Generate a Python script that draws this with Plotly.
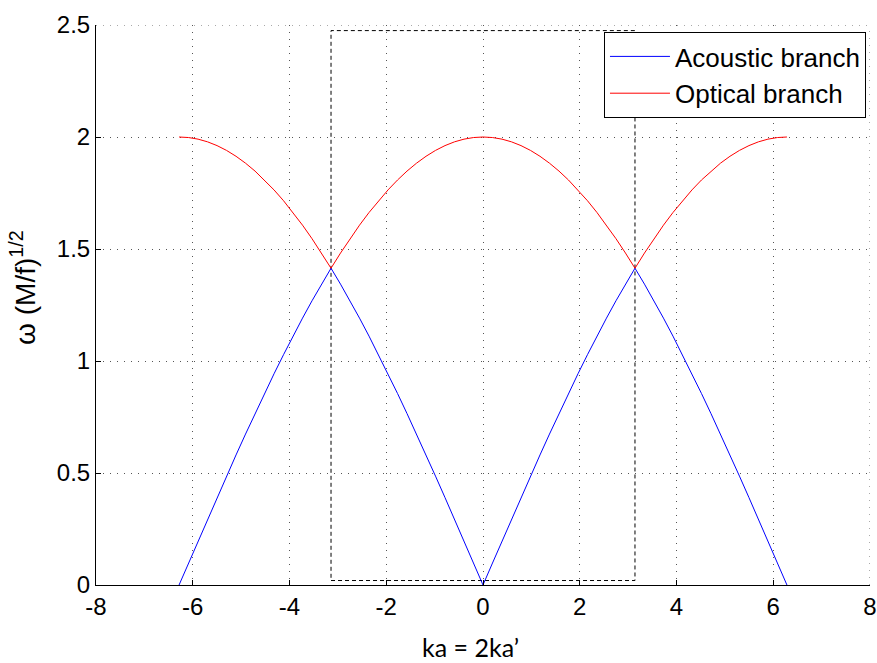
import plotly.graph_objects as go

# ka values (-2π .. 2π)
ka = [-6.2832, -6.0868, -5.8905, -5.6941, -5.4978, -5.3014, -5.1051, -4.9087,
      -4.7124, -4.5160, -4.3197, -4.1233, -3.9270, -3.7306, -3.5343, -3.3379,
      -3.1416, -2.9452, -2.7489, -2.5525, -2.3562, -2.1598, -1.9635, -1.7671,
      -1.5708, -1.3744, -1.1781, -0.9817, -0.7854, -0.5890, -0.3927, -0.1963,
      0.0,
      0.1963, 0.3927, 0.5890, 0.7854, 0.9817, 1.1781, 1.3744, 1.5708,
      1.7671, 1.9635, 2.1598, 2.3562, 2.5525, 2.7489, 2.9452, 3.1416,
      3.3379, 3.5343, 3.7306, 3.9270, 4.1233, 4.3197, 4.5160, 4.7124,
      4.9087, 5.1051, 5.3014, 5.4978, 5.6941, 5.8905, 6.0868, 6.2832]

acoustic = [0.0, 0.0981, 0.1960, 0.2935, 0.3902, 0.4860, 0.5806, 0.6738,
            0.7654, 0.8551, 0.9428, 1.0282, 1.1111, 1.1914, 1.2688, 1.3431,
            1.4142, 1.3431, 1.2688, 1.1914, 1.1111, 1.0282, 0.9428, 0.8551,
            0.7654, 0.6738, 0.5806, 0.4860, 0.3902, 0.2935, 0.1960, 0.0981,
            0.0,
            0.0981, 0.1960, 0.2935, 0.3902, 0.4860, 0.5806, 0.6738, 0.7654,
            0.8551, 0.9428, 1.0282, 1.1111, 1.1914, 1.2688, 1.3431, 1.4142,
            1.3431, 1.2688, 1.1914, 1.1111, 1.0282, 0.9428, 0.8551, 0.7654,
            0.6738, 0.5806, 0.4860, 0.3902, 0.2935, 0.1960, 0.0981, 0.0]

optical = [2.0, 1.9976, 1.9904, 1.9784, 1.9616, 1.9401, 1.9139, 1.8831,
           1.8478, 1.8080, 1.7638, 1.7155, 1.6629, 1.6064, 1.5460, 1.4819,
           1.4142, 1.4819, 1.5460, 1.6064, 1.6629, 1.7155, 1.7638, 1.8080,
           1.8478, 1.8831, 1.9139, 1.9401, 1.9616, 1.9784, 1.9904, 1.9976,
           2.0,
           1.9976, 1.9904, 1.9784, 1.9616, 1.9401, 1.9139, 1.8831, 1.8478,
           1.8080, 1.7638, 1.7155, 1.6629, 1.6064, 1.5460, 1.4819, 1.4142,
           1.4819, 1.5460, 1.6064, 1.6629, 1.7155, 1.7638, 1.8080, 1.8478,
           1.8831, 1.9139, 1.9401, 1.9616, 1.9784, 1.9904, 1.9976, 2.0]

# first Brillouin zone box
zone_x = [-3.1416, 3.1416, 3.1416, -3.1416, -3.1416]
zone_y = [0.02, 0.02, 2.475, 2.475, 0.02]

x_ticks = [-8, -6, -4, -2, 0, 2, 4, 6, 8]
y_ticks = [0, 0.5, 1, 1.5, 2, 2.5]
y_tick_text = ["0", "0.5", "1", "1.5", "2", "2.5"]

series_names = ["Acoustic branch", "Optical branch"]

X_RANGE = [-8, 8]
Y_RANGE = [0, 2.5]

fig = go.Figure()
fig.add_trace(go.Scatter(x=zone_x, y=zone_y, mode="lines",
                         line=dict(color="black", width=1, dash="4px,3px"),
                         showlegend=False, hoverinfo="skip"))
fig.add_trace(go.Scatter(x=ka, y=acoustic, mode="lines", name=series_names[0],
                         line=dict(color="#0000ff", width=1)))
fig.add_trace(go.Scatter(x=ka, y=optical, mode="lines", name=series_names[1],
                         line=dict(color="#ff0000", width=1)))

tick_font = dict(family="Liberation Sans, Arial, sans-serif", size=24, color="black")
grid_color = "#555555"
grid_dash = "1px,6px"

# grid lines at the far edges (top y=2.5 and right x=8), hidden by plotly otherwise
shapes = [
    dict(type="line", xref="x", yref="y", x0=X_RANGE[0], x1=X_RANGE[1], y0=Y_RANGE[1], y1=Y_RANGE[1],
         line=dict(color=grid_color, width=1, dash=grid_dash), layer="below"),
    dict(type="line", xref="x", yref="y", x0=X_RANGE[1], x1=X_RANGE[1], y0=Y_RANGE[0], y1=Y_RANGE[1],
         line=dict(color=grid_color, width=1, dash=grid_dash), layer="below"),
]

fig.update_layout(
    width=877, height=663,
    margin=dict(l=96, r=7, t=25, b=78),
    paper_bgcolor="white", plot_bgcolor="white",
    showlegend=True,
    legend=dict(x=0.9948, y=0.9875, xanchor="right", yanchor="top",
                bgcolor="white", bordercolor="black", borderwidth=1,
                font=dict(family="Liberation Sans, Arial, sans-serif", size=26, color="black"),
                itemwidth=60, tracegroupgap=0),
    xaxis=dict(range=X_RANGE, tickvals=x_ticks, ticktext=[str(v) for v in x_ticks],
               ticks="inside", ticklen=5, tickcolor="black",
               showline=True, linecolor="black", linewidth=1,
               showgrid=True, gridcolor=grid_color, griddash=grid_dash, gridwidth=1,
               zeroline=False, tickfont=tick_font, automargin=False),
    yaxis=dict(range=Y_RANGE, tickvals=y_ticks, ticktext=y_tick_text,
               ticks="inside", ticklen=5, tickcolor="black",
               showline=True, linecolor="black", linewidth=1,
               showgrid=True, gridcolor=grid_color, griddash=grid_dash, gridwidth=1,
               zeroline=False, tickfont=tick_font, automargin=False),
    shapes=shapes,
    annotations=[
        dict(text="ka = 2ka’", xref="paper", yref="paper", x=0.4833, y=-0.1107,
             xanchor="center", yanchor="middle", showarrow=False,
             font=dict(family="Lato, Carlito, sans-serif", size=25, color="black")),
        dict(text="ω (M/f)<sup>1/2</sup>", xref="paper", yref="paper", x=-0.0943, y=0.5306,
             xanchor="center", yanchor="middle", showarrow=False, textangle=-90,
             font=dict(family="Liberation Sans, Arial, sans-serif", size=28, color="black")),
    ],
)

fig.write_html(
    "out.html",
    config={"displayModeBar": False},
    post_script="document.body.style.margin='0';document.body.style.overflow='hidden';",
)
